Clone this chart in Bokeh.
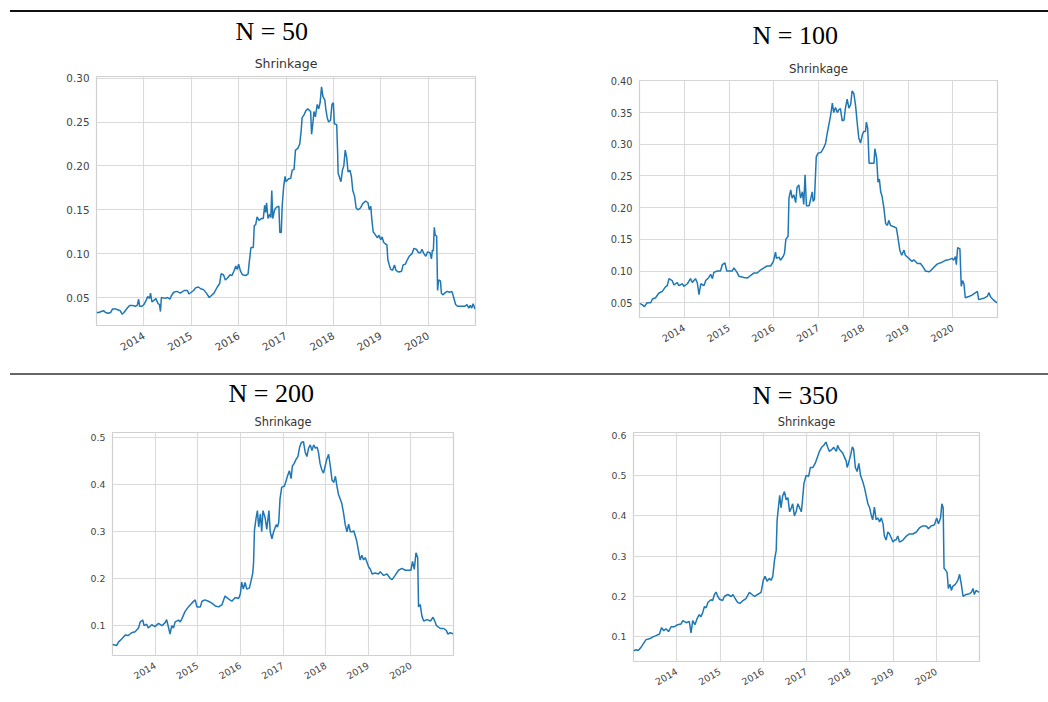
import math
from bokeh.plotting import figure
from bokeh.models import FixedTicker, PrintfTickFormatter, Title, Spacer, Range1d, Div
from bokeh.layouts import column, row
from bokeh.embed import file_html
from bokeh.resources import INLINE

# ---------------- data (decimal years, shrinkage) ----------------
panel_titles = ["N = 50", "N = 100", "N = 200", "N = 350"]
subtitle = "Shrinkage"
year_ticks = [2014, 2015, 2016, 2017, 2018, 2019, 2020]

years_50 = [2013.00, 2013.05, 2013.10, 2013.15, 2013.19, 2013.25, 2013.30, 2013.34, 2013.40, 2013.45,
            2013.50, 2013.54, 2013.58, 2013.65, 2013.70, 2013.76, 2013.82, 2013.86, 2013.89, 2013.91,
            2013.96, 2014.00, 2014.05, 2014.08, 2014.12, 2014.14, 2014.17, 2014.22, 2014.25, 2014.30,
            2014.33, 2014.35, 2014.37, 2014.45, 2014.50, 2014.55, 2014.58, 2014.63, 2014.70, 2014.77,
            2014.85, 2014.92, 2014.95, 2015.00, 2015.05, 2015.09, 2015.15, 2015.20, 2015.26, 2015.32,
            2015.38, 2015.42, 2015.48, 2015.55, 2015.60, 2015.63, 2015.68, 2015.72, 2015.76, 2015.82,
            2015.86, 2015.90, 2015.94, 2015.97, 2016.00, 2016.04, 2016.08, 2016.15, 2016.20, 2016.22,
            2016.26, 2016.31, 2016.33, 2016.36, 2016.39, 2016.43, 2016.48, 2016.52, 2016.55, 2016.57,
            2016.59, 2016.62, 2016.66, 2016.68, 2016.70, 2016.72, 2016.76, 2016.80, 2016.85, 2016.87,
            2016.90, 2016.92, 2016.95, 2016.98, 2017.00, 2017.05, 2017.10, 2017.13, 2017.17, 2017.20,
            2017.25, 2017.29, 2017.32, 2017.34, 2017.38, 2017.42, 2017.46, 2017.52, 2017.54, 2017.57,
            2017.59, 2017.62, 2017.66, 2017.69, 2017.72, 2017.75, 2017.78, 2017.82, 2017.84, 2017.87,
            2017.90, 2017.94, 2017.97, 2018.00, 2018.02, 2018.07, 2018.09, 2018.10, 2018.14, 2018.16,
            2018.19, 2018.22, 2018.25, 2018.28, 2018.31, 2018.35, 2018.38, 2018.41, 2018.45, 2018.48,
            2018.52, 2018.57, 2018.62, 2018.68, 2018.73, 2018.76, 2018.79, 2018.81, 2018.84, 2018.88,
            2018.93, 2018.96, 2019.00, 2019.03, 2019.06, 2019.10, 2019.13, 2019.15, 2019.18, 2019.21,
            2019.25, 2019.29, 2019.32, 2019.38, 2019.44, 2019.47, 2019.52, 2019.56, 2019.60, 2019.66,
            2019.70, 2019.75, 2019.80, 2019.84, 2019.87, 2019.91, 2019.95, 2019.99, 2020.04, 2020.07,
            2020.09, 2020.11, 2020.13, 2020.15, 2020.18, 2020.20, 2020.22, 2020.26, 2020.28, 2020.31,
            2020.35, 2020.40, 2020.45, 2020.50, 2020.54, 2020.58, 2020.62, 2020.70, 2020.78, 2020.82,
            2020.86, 2020.89, 2020.92, 2020.95, 2020.99]
shrink_50 = [0.033, 0.033, 0.034, 0.035, 0.033, 0.032, 0.033, 0.037, 0.037, 0.036,
             0.035, 0.031, 0.033, 0.038, 0.041, 0.041, 0.040, 0.041, 0.048, 0.040,
             0.040, 0.042, 0.047, 0.051, 0.049, 0.055, 0.045, 0.047, 0.049, 0.043,
             0.042, 0.034, 0.050, 0.049, 0.050, 0.048, 0.052, 0.056, 0.057, 0.055,
             0.058, 0.058, 0.054, 0.056, 0.058, 0.061, 0.062, 0.060, 0.059, 0.055,
             0.050, 0.052, 0.055, 0.062, 0.066, 0.077, 0.076, 0.070, 0.072, 0.076,
             0.075, 0.080, 0.086, 0.082, 0.088, 0.080, 0.076, 0.075, 0.077, 0.088,
             0.107, 0.107, 0.132, 0.133, 0.142, 0.138, 0.140, 0.140, 0.155, 0.147,
             0.158, 0.140, 0.145, 0.141, 0.172, 0.140, 0.150, 0.153, 0.154, 0.124,
             0.124, 0.155, 0.176, 0.188, 0.182, 0.185, 0.186, 0.195, 0.196, 0.218,
             0.220, 0.225, 0.240, 0.255, 0.258, 0.263, 0.265, 0.262, 0.236, 0.250,
             0.262, 0.256, 0.270, 0.265, 0.272, 0.290, 0.279, 0.275, 0.265, 0.255,
             0.250, 0.252, 0.270, 0.272, 0.248, 0.247, 0.215, 0.192, 0.185, 0.182,
             0.195, 0.200, 0.218, 0.210, 0.193, 0.195, 0.188, 0.172, 0.165, 0.152,
             0.150, 0.152, 0.157, 0.160, 0.158, 0.150, 0.154, 0.140, 0.125, 0.122,
             0.118, 0.121, 0.116, 0.119, 0.113, 0.111, 0.110, 0.093, 0.087, 0.082,
             0.081, 0.087, 0.081, 0.079, 0.080, 0.087, 0.088, 0.093, 0.097, 0.100,
             0.106, 0.105, 0.101, 0.101, 0.105, 0.100, 0.097, 0.102, 0.101, 0.094,
             0.104, 0.103, 0.130, 0.121, 0.120, 0.058, 0.070, 0.069, 0.055, 0.053,
             0.055, 0.057, 0.056, 0.057, 0.050, 0.042, 0.040, 0.040, 0.040, 0.042,
             0.038, 0.041, 0.038, 0.043, 0.037]

years_100 = [2013.00, 2013.06, 2013.11, 2013.17, 2013.25, 2013.29, 2013.36, 2013.43, 2013.51, 2013.58,
             2013.62, 2013.66, 2013.73, 2013.77, 2013.84, 2013.88, 2013.96, 2013.99, 2014.07, 2014.14,
             2014.18, 2014.25, 2014.29, 2014.33, 2014.37, 2014.44, 2014.48, 2014.55, 2014.59, 2014.63,
             2014.66, 2014.74, 2014.81, 2014.85, 2014.91, 2014.95, 2015.00, 2015.07, 2015.11, 2015.18,
             2015.22, 2015.33, 2015.41, 2015.48, 2015.56, 2015.63, 2015.71, 2015.78, 2015.85, 2015.93,
             2015.99, 2016.04, 2016.06, 2016.12, 2016.15, 2016.21, 2016.24, 2016.27, 2016.32, 2016.34,
             2016.38, 2016.41, 2016.45, 2016.49, 2016.52, 2016.56, 2016.60, 2016.64, 2016.67, 2016.70,
             2016.73, 2016.79, 2016.82, 2016.86, 2016.88, 2016.91, 2016.95, 2016.99, 2017.05, 2017.08,
             2017.12, 2017.16, 2017.19, 2017.23, 2017.27, 2017.31, 2017.34, 2017.38, 2017.42, 2017.46,
             2017.49, 2017.53, 2017.57, 2017.60, 2017.64, 2017.68, 2017.72, 2017.75, 2017.79, 2017.83,
             2017.87, 2017.90, 2017.94, 2017.98, 2018.01, 2018.05, 2018.07, 2018.10, 2018.13, 2018.20,
             2018.24, 2018.26, 2018.30, 2018.33, 2018.36, 2018.39, 2018.42, 2018.46, 2018.50, 2018.54,
             2018.57, 2018.61, 2018.68, 2018.74, 2018.77, 2018.82, 2018.86, 2018.91, 2018.94, 2019.02,
             2019.09, 2019.13, 2019.21, 2019.28, 2019.35, 2019.39, 2019.47, 2019.50, 2019.58, 2019.65,
             2019.76, 2019.84, 2019.91, 2019.99, 2020.02, 2020.06, 2020.08, 2020.11, 2020.16, 2020.19,
             2020.22, 2020.25, 2020.28, 2020.36, 2020.43, 2020.51, 2020.55, 2020.58, 2020.69, 2020.77,
             2020.81, 2020.84, 2020.90, 2020.99]
shrink_100 = [0.049, 0.047, 0.044, 0.050, 0.050, 0.056, 0.058, 0.065, 0.068, 0.075,
              0.077, 0.088, 0.085, 0.078, 0.082, 0.077, 0.080, 0.076, 0.080, 0.088,
              0.082, 0.088, 0.082, 0.063, 0.080, 0.077, 0.085, 0.090, 0.095, 0.088,
              0.098, 0.100, 0.100, 0.110, 0.113, 0.100, 0.100, 0.100, 0.105, 0.098,
              0.092, 0.090, 0.089, 0.093, 0.097, 0.097, 0.102, 0.105, 0.108, 0.108,
              0.115, 0.130, 0.120, 0.122, 0.117, 0.123, 0.128, 0.150, 0.155, 0.215,
              0.228, 0.215, 0.220, 0.208, 0.232, 0.236, 0.215, 0.225, 0.205, 0.252,
              0.203, 0.203, 0.212, 0.225, 0.210, 0.213, 0.280, 0.286, 0.287, 0.290,
              0.295, 0.302, 0.315, 0.330, 0.345, 0.365, 0.350, 0.358, 0.350, 0.355,
              0.356, 0.337, 0.338, 0.356, 0.371, 0.357, 0.363, 0.384, 0.380, 0.360,
              0.330, 0.310, 0.302, 0.315, 0.320, 0.320, 0.335, 0.325, 0.270, 0.270,
              0.270, 0.293, 0.278, 0.240, 0.245, 0.225, 0.218, 0.200, 0.175, 0.172,
              0.180, 0.172, 0.170, 0.168, 0.155, 0.132, 0.125, 0.133, 0.125, 0.120,
              0.115, 0.118, 0.112, 0.112, 0.105, 0.100, 0.099, 0.100, 0.106, 0.111,
              0.114, 0.117, 0.118, 0.120, 0.117, 0.123, 0.110, 0.137, 0.135, 0.076,
              0.085, 0.080, 0.058, 0.060, 0.062, 0.066, 0.068, 0.055, 0.057, 0.060,
              0.066, 0.060, 0.055, 0.050]

years_200 = [2013.00, 2013.10, 2013.14, 2013.22, 2013.30, 2013.37, 2013.45, 2013.53, 2013.61, 2013.65,
             2013.71, 2013.74, 2013.80, 2013.84, 2013.92, 2014.00, 2014.08, 2014.16, 2014.24, 2014.27,
             2014.31, 2014.35, 2014.39, 2014.43, 2014.47, 2014.55, 2014.59, 2014.63, 2014.70, 2014.78,
             2014.86, 2014.94, 2014.98, 2015.06, 2015.10, 2015.17, 2015.25, 2015.33, 2015.41, 2015.49,
             2015.57, 2015.64, 2015.72, 2015.80, 2015.88, 2015.96, 2016.00, 2016.03, 2016.07, 2016.11,
             2016.15, 2016.21, 2016.25, 2016.29, 2016.31, 2016.33, 2016.37, 2016.40, 2016.43, 2016.47,
             2016.50, 2016.53, 2016.58, 2016.62, 2016.67, 2016.70, 2016.74, 2016.78, 2016.84, 2016.87,
             2016.90, 2016.93, 2016.97, 2017.03, 2017.06, 2017.11, 2017.15, 2017.19, 2017.22, 2017.26,
             2017.31, 2017.35, 2017.39, 2017.43, 2017.48, 2017.52, 2017.56, 2017.60, 2017.64, 2017.68,
             2017.72, 2017.76, 2017.80, 2017.83, 2017.87, 2017.91, 2017.95, 2017.99, 2018.03, 2018.07,
             2018.11, 2018.15, 2018.19, 2018.23, 2018.26, 2018.30, 2018.34, 2018.38, 2018.42, 2018.46,
             2018.50, 2018.54, 2018.58, 2018.62, 2018.66, 2018.70, 2018.73, 2018.77, 2018.81, 2018.85,
             2018.89, 2018.93, 2018.97, 2019.01, 2019.05, 2019.09, 2019.16, 2019.24, 2019.28, 2019.36,
             2019.44, 2019.52, 2019.56, 2019.63, 2019.71, 2019.79, 2019.87, 2019.95, 2020.00, 2020.04,
             2020.08, 2020.12, 2020.16, 2020.18, 2020.22, 2020.26, 2020.30, 2020.38, 2020.46, 2020.52,
             2020.56, 2020.60, 2020.69, 2020.77, 2020.83, 2020.87, 2020.92, 2020.99]
shrink_200 = [0.060, 0.058, 0.065, 0.072, 0.080, 0.079, 0.085, 0.087, 0.095, 0.108,
              0.112, 0.100, 0.103, 0.095, 0.102, 0.098, 0.105, 0.100, 0.107, 0.113,
              0.098, 0.082, 0.100, 0.095, 0.108, 0.112, 0.108, 0.115, 0.130, 0.140,
              0.148, 0.155, 0.140, 0.140, 0.152, 0.155, 0.152, 0.148, 0.142, 0.140,
              0.145, 0.163, 0.157, 0.152, 0.160, 0.158, 0.168, 0.193, 0.178, 0.192,
              0.178, 0.180, 0.195, 0.212, 0.235, 0.303, 0.330, 0.345, 0.310, 0.338,
              0.300, 0.345, 0.330, 0.305, 0.345, 0.300, 0.285, 0.300, 0.315, 0.310,
              0.320, 0.370, 0.395, 0.397, 0.405, 0.420, 0.430, 0.413, 0.440, 0.445,
              0.455, 0.460, 0.480, 0.490, 0.492, 0.470, 0.460, 0.478, 0.485, 0.473,
              0.485, 0.478, 0.480, 0.470, 0.445, 0.432, 0.425, 0.440, 0.455, 0.465,
              0.440, 0.410, 0.405, 0.418, 0.400, 0.380, 0.370, 0.360, 0.340, 0.315,
              0.300, 0.316, 0.300, 0.300, 0.302, 0.290, 0.280, 0.260, 0.240, 0.250,
              0.240, 0.245, 0.235, 0.225, 0.220, 0.210, 0.212, 0.210, 0.215, 0.207,
              0.210, 0.200, 0.198, 0.207, 0.218, 0.222, 0.218, 0.218, 0.218, 0.237,
              0.220, 0.255, 0.245, 0.140, 0.145, 0.120, 0.110, 0.113, 0.110, 0.118,
              0.110, 0.100, 0.094, 0.094, 0.090, 0.082, 0.085, 0.083]

years_350 = [2013.00, 2013.06, 2013.11, 2013.18, 2013.24, 2013.29, 2013.37, 2013.45, 2013.52, 2013.60,
             2013.65, 2013.70, 2013.75, 2013.81, 2013.87, 2013.95, 2014.02, 2014.10, 2014.14, 2014.22,
             2014.29, 2014.33, 2014.37, 2014.42, 2014.47, 2014.52, 2014.56, 2014.60, 2014.64, 2014.68,
             2014.72, 2014.79, 2014.83, 2014.87, 2014.91, 2014.95, 2014.99, 2015.06, 2015.10, 2015.18,
             2015.26, 2015.30, 2015.35, 2015.41, 2015.47, 2015.53, 2015.60, 2015.68, 2015.74, 2015.80,
             2015.87, 2015.95, 2016.00, 2016.04, 2016.09, 2016.14, 2016.18, 2016.22, 2016.26, 2016.30,
             2016.32, 2016.35, 2016.38, 2016.41, 2016.45, 2016.49, 2016.53, 2016.57, 2016.61, 2016.65,
             2016.68, 2016.72, 2016.76, 2016.80, 2016.84, 2016.88, 2016.90, 2016.94, 2016.99, 2017.05,
             2017.09, 2017.15, 2017.20, 2017.25, 2017.30, 2017.35, 2017.40, 2017.45, 2017.49, 2017.53,
             2017.59, 2017.63, 2017.69, 2017.72, 2017.76, 2017.80, 2017.84, 2017.88, 2017.92, 2017.94,
             2017.97, 2018.02, 2018.06, 2018.09, 2018.13, 2018.17, 2018.21, 2018.25, 2018.30, 2018.34,
             2018.38, 2018.42, 2018.46, 2018.50, 2018.53, 2018.57, 2018.61, 2018.65, 2018.69, 2018.73,
             2018.77, 2018.80, 2018.84, 2018.88, 2018.92, 2018.96, 2019.00, 2019.04, 2019.07, 2019.11,
             2019.15, 2019.23, 2019.31, 2019.38, 2019.46, 2019.54, 2019.61, 2019.69, 2019.77, 2019.82,
             2019.88, 2019.96, 2020.01, 2020.05, 2020.10, 2020.13, 2020.16, 2020.18, 2020.22, 2020.25,
             2020.28, 2020.32, 2020.35, 2020.38, 2020.44, 2020.50, 2020.54, 2020.58, 2020.62, 2020.69,
             2020.77, 2020.81, 2020.85, 2020.88, 2020.92, 2020.99]
shrink_350 = [0.065, 0.068, 0.066, 0.075, 0.085, 0.093, 0.095, 0.100, 0.103, 0.107,
              0.123, 0.115, 0.120, 0.113, 0.125, 0.125, 0.130, 0.132, 0.140, 0.135,
              0.138, 0.110, 0.140, 0.130, 0.145, 0.155, 0.150, 0.160, 0.175, 0.172,
              0.185, 0.192, 0.190, 0.205, 0.211, 0.200, 0.193, 0.190, 0.200, 0.205,
              0.200, 0.205, 0.195, 0.185, 0.183, 0.190, 0.195, 0.210, 0.205, 0.200,
              0.205, 0.210, 0.240, 0.250, 0.238, 0.245, 0.240, 0.250, 0.290, 0.315,
              0.389, 0.420, 0.451, 0.420, 0.450, 0.460, 0.440, 0.445, 0.410, 0.420,
              0.430, 0.400, 0.410, 0.430, 0.420, 0.410, 0.430, 0.480, 0.500, 0.498,
              0.520, 0.520, 0.530, 0.545, 0.560, 0.570, 0.575, 0.583, 0.570, 0.560,
              0.565, 0.570, 0.560, 0.575, 0.565, 0.560, 0.555, 0.545, 0.535, 0.520,
              0.530, 0.550, 0.571, 0.565, 0.520, 0.510, 0.530, 0.500, 0.485, 0.470,
              0.450, 0.430, 0.420, 0.400, 0.390, 0.422, 0.390, 0.395, 0.385, 0.395,
              0.380, 0.350, 0.340, 0.360, 0.355, 0.345, 0.335, 0.340, 0.340, 0.350,
              0.335, 0.340, 0.350, 0.355, 0.355, 0.360, 0.370, 0.375, 0.375, 0.368,
              0.375, 0.378, 0.395, 0.380, 0.395, 0.430, 0.420, 0.270, 0.265, 0.260,
              0.220, 0.230, 0.215, 0.225, 0.230, 0.240, 0.255, 0.230, 0.200, 0.205,
              0.207, 0.210, 0.220, 0.205, 0.215, 0.210]

series_years = [years_50, years_100, years_200, years_350]
series_vals = [shrink_50, shrink_100, shrink_200, shrink_350]
y_ticks = [[0.05, 0.10, 0.15, 0.20, 0.25, 0.30],
           [0.05, 0.10, 0.15, 0.20, 0.25, 0.30, 0.35, 0.40],
           [0.1, 0.2, 0.3, 0.4, 0.5],
           [0.1, 0.2, 0.3, 0.4, 0.5, 0.6]]
y_formats = ["%.2f", "%.2f", "%.1f", "%.1f"]
y_limits = [(0.0181, 0.3019), (0.0268, 0.4005), (0.0365, 0.5113), (0.0388, 0.6067)]
x_limits = (2013.0, 2021.0)

# ---------------- layout / style settings ----------------
W = 524
H_TOP, H_BOT = 359, 326
# (left, right, top, bottom) borders of each panel
borders = [(96, 49, 63, 47), (115, 51, 67, 55), (112, 71, 55, 47), (109, 69, 56, 41)]
title_offset = [139, 113, 116, 119]
sub_standoff = [11.5, 9.0, 8.0, 6.2]
title_standoff = [2.1, 10.7, 0.9, 2.0]
sub_size = ["12.5px", "11.8px", "11.4px", "11.5px"]
tick_size = ["10.4px", "9.8px", "9.4px", "9.4px"]

LINE_COLOR = "#1f77b4"
GRID_COLOR = "#dadada"


def make_panel(i, height):
    bl, br, bt, bb = borders[i]
    p = figure(width=W, height=height, toolbar_location=None, output_backend="svg", title=None,
               x_range=Range1d(*x_limits), y_range=Range1d(*y_limits[i]),
               min_border_left=bl, min_border_right=br, min_border_top=bt, min_border_bottom=bb,
               background_fill_color="white", border_fill_color="white")
    p.line(series_years[i], series_vals[i], line_color=LINE_COLOR, line_width=1.5)
    p.outline_line_color = "#d0d0d0"
    p.outline_line_width = 1.2
    p.grid.grid_line_color = GRID_COLOR
    p.grid.grid_line_width = 1.1
    p.xaxis.ticker = FixedTicker(ticks=year_ticks)
    p.xaxis.formatter = PrintfTickFormatter(format="%d")
    p.yaxis.ticker = FixedTicker(ticks=y_ticks[i])
    p.yaxis.formatter = PrintfTickFormatter(format=y_formats[i])
    for ax in (p.xaxis, p.yaxis):
        ax.axis_line_color = None
        ax.major_tick_line_color = None
        ax.minor_tick_line_color = None
        ax.major_tick_out = 0
        ax.major_tick_in = 0
        ax.major_label_text_font = "DejaVu Sans"
        ax.major_label_text_font_size = tick_size[i]
        ax.major_label_text_color = "#444444"
    p.yaxis.major_label_standoff = 7
    p.xaxis.major_label_standoff = 9
    p.xaxis.major_label_orientation = math.pi / 6

    p.add_layout(Title(text=subtitle, align="center", text_font="DejaVu Sans",
                       text_font_size=sub_size[i], text_font_style="normal",
                       text_color="#333333", standoff=sub_standoff[i]), "above")
    p.add_layout(Title(text=panel_titles[i], align="left", offset=title_offset[i],
                       text_font="Liberation Serif", text_font_size="26px",
                       text_font_style="normal", text_color="black",
                       standoff=title_standoff[i]), "above")
    return p


def make_rule(color):
    return Div(text="", width=1038, height=2, margin=0,
               styles={"background-color": color, "overflow": "hidden"})


p1 = make_panel(0, H_TOP)
p2 = make_panel(1, H_TOP)
p3 = make_panel(2, H_BOT)
p4 = make_panel(3, H_BOT)

layout = column(
    Spacer(width=1048, height=10, margin=0),
    row(Spacer(width=10, height=2, margin=0), make_rule("#111111")),
    Spacer(width=1048, height=1, margin=0),
    row(column(p1), column(p2)),
    Spacer(width=1048, height=1, margin=0),
    row(Spacer(width=10, height=2, margin=0), make_rule("#666666")),
    Spacer(width=1048, height=1, margin=0),
    row(column(p3), column(p4)),
)

open("out.html", "w").write(file_html(layout, INLINE))
